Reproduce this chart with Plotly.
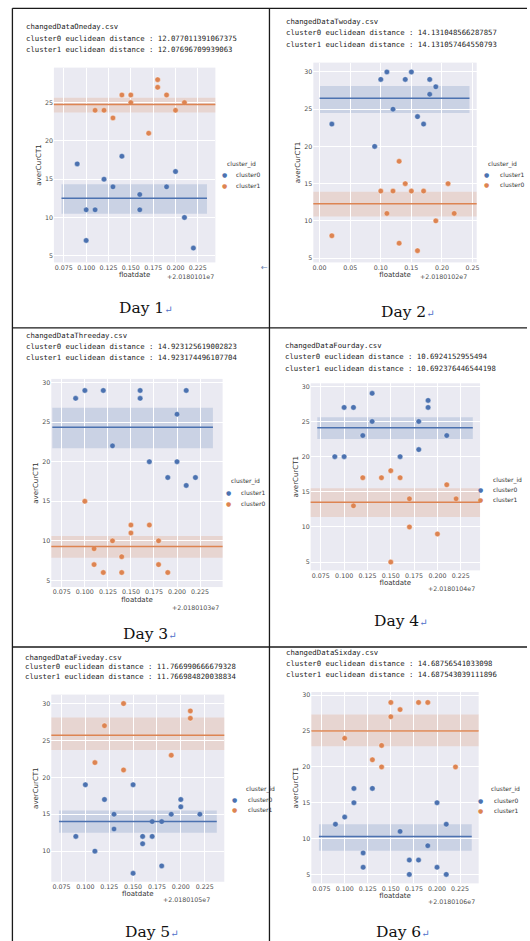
import plotly.graph_objects as go

W, H = 530, 941
BLUE = "#4C72B0"
ORANGE = "#DD8452"

# ---------------- data ----------------
days = ["Day 1", "Day 2", "Day 3", "Day 4", "Day 5", "Day 6"]
offset_labels = ["+2.0180101e7", "+2.0180102e7", "+2.0180103e7",
                 "+2.0180104e7", "+2.0180105e7", "+2.0180106e7"]
headers = [
    ["changedDataOneday.csv",
     "cluster0 euclidean distance : 12.077011391067375",
     "cluster1 euclidean distance : 12.07696709939063"],
    ["changedDataTwoday.csv",
     "cluster0 euclidean distance : 14.131048566287857",
     "cluster1 euclidean distance : 14.131057464550793"],
    ["changedDataThreeday.csv",
     "cluster0 euclidean distance : 14.923125619002823",
     "cluster1 euclidean distance : 14.923174496107704"],
    ["changedDataFourday.csv",
     "cluster0 euclidean distance : 10.6924152955494",
     "cluster1 euclidean distance : 10.692376446544198"],
    ["changedDataFiveday.csv",
     "cluster0 euclidean distance : 11.766990666679328",
     "cluster1 euclidean distance : 11.766984820038834"],
    ["changedDataSixday.csv",
     "cluster0 euclidean distance : 14.68756541033098",
     "cluster1 euclidean distance : 14.687543039111896"],
]

# blue series (first legend entry) / orange series (second legend entry)
blue_names = ["cluster0", "cluster1", "cluster1", "cluster0", "cluster0", "cluster0"]
orange_names = ["cluster1", "cluster0", "cluster0", "cluster1", "cluster1", "cluster1"]

d1_blue_x = [0.09, 0.10, 0.10, 0.11, 0.12, 0.13, 0.14, 0.16, 0.16, 0.19, 0.20, 0.21, 0.22]
d1_blue_y = [17, 11, 7, 11, 15, 14, 18, 13, 11, 14, 16, 10, 6]
d1_orange_x = [0.11, 0.12, 0.13, 0.14, 0.15, 0.15, 0.17, 0.18, 0.18, 0.19, 0.20, 0.21]
d1_orange_y = [24, 24, 23, 26, 26, 25, 21, 28, 27, 26, 24, 25]

d2_blue_x = [0.02, 0.09, 0.10, 0.11, 0.12, 0.14, 0.15, 0.16, 0.17, 0.18, 0.18, 0.19]
d2_blue_y = [23, 20, 29, 30, 25, 29, 30, 24, 23, 29, 27, 28]
d2_orange_x = [0.02, 0.10, 0.11, 0.12, 0.13, 0.13, 0.14, 0.15, 0.16, 0.17, 0.19, 0.21, 0.22]
d2_orange_y = [8, 14, 11, 14, 18, 7, 15, 14, 6, 14, 10, 15, 11]

d3_blue_x = [0.09, 0.10, 0.12, 0.13, 0.16, 0.16, 0.17, 0.19, 0.20, 0.20, 0.21, 0.21, 0.22]
d3_blue_y = [28, 29, 29, 22, 29, 28, 20, 18, 26, 20, 29, 17, 18]
d3_orange_x = [0.10, 0.11, 0.11, 0.12, 0.13, 0.14, 0.14, 0.15, 0.15, 0.17, 0.18, 0.18, 0.19]
d3_orange_y = [15, 9, 7, 6, 10, 8, 6, 12, 11, 12, 10, 7, 6]

d4_blue_x = [0.09, 0.10, 0.10, 0.11, 0.12, 0.13, 0.13, 0.16, 0.18, 0.18, 0.19, 0.19, 0.21]
d4_blue_y = [20, 20, 27, 27, 23, 29, 25, 20, 25, 21, 28, 27, 23]
d4_orange_x = [0.11, 0.12, 0.14, 0.15, 0.15, 0.16, 0.17, 0.17, 0.20, 0.21, 0.22]
d4_orange_y = [13, 17, 17, 18, 5, 17, 14, 10, 9, 16, 14]

d5_blue_x = [0.09, 0.10, 0.11, 0.12, 0.13, 0.13, 0.15, 0.15, 0.16, 0.16, 0.17, 0.17,
             0.18, 0.18, 0.19, 0.20, 0.20, 0.22]
d5_blue_y = [12, 19, 10, 17, 15, 13, 19, 7, 12, 11, 14, 12, 14, 8, 15, 17, 16, 15]
d5_orange_x = [0.11, 0.12, 0.14, 0.14, 0.19, 0.21, 0.21]
d5_orange_y = [22, 27, 30, 21, 23, 29, 28]

d6_blue_x = [0.09, 0.10, 0.11, 0.11, 0.12, 0.12, 0.13, 0.16, 0.17, 0.17, 0.18, 0.19,
             0.20, 0.20, 0.21, 0.21]
d6_blue_y = [12, 13, 17, 15, 8, 6, 17, 11, 7, 5, 7, 9, 15, 6, 12, 5]
d6_orange_x = [0.10, 0.13, 0.14, 0.14, 0.15, 0.15, 0.16, 0.18, 0.19, 0.22]
d6_orange_y = [24, 21, 23, 20, 29, 27, 28, 29, 29, 20]

blue_x = [d1_blue_x, d2_blue_x, d3_blue_x, d4_blue_x, d5_blue_x, d6_blue_x]
blue_y = [d1_blue_y, d2_blue_y, d3_blue_y, d4_blue_y, d5_blue_y, d6_blue_y]
orange_x = [d1_orange_x, d2_orange_x, d3_orange_x, d4_orange_x, d5_orange_x, d6_orange_x]
orange_y = [d1_orange_y, d2_orange_y, d3_orange_y, d4_orange_y, d5_orange_y, d6_orange_y]

# cluster mean lines and bands
blue_mean = [12.5, 26.46, 24.36, 24.1, 14.0, 10.3]
blue_lo = [10.5, 24.5, 21.7, 22.5, 12.5, 8.3]
blue_hi = [14.35, 28.1, 26.8, 25.6, 15.5, 12.0]
blue_start = [0.0724, 0.0, 0.0647, 0.0712, 0.0723, 0.0721]
blue_end = [0.2352, 0.245, 0.239, 0.2379, 0.2377, 0.2376]
orange_mean = [24.75, 12.3, 9.3, 13.5, 25.7, 25.0]
orange_lo = [23.7, 10.6, 7.85, 11.4, 23.7, 22.9]
orange_hi = [25.65, 13.9, 10.6, 15.5, 28.1, 27.3]

# ---------------- layout geometry (page pixels) ----------------
plot_box = [  # x0, x1, y0(top), y1(bottom)
    (53.3, 216.0, 66.7, 261.7),
    (314.7, 479.3, 61.7, 261.7),
    (50.7, 223.3, 378.3, 586.7),
    (312.0, 482.7, 382.7, 570.0),
    (50.7, 225.0, 694.3, 881.7),
    (312.7, 481.3, 691.7, 883.3),
]
x_ranges = [(0.0639, 0.2446), (-0.0103, 0.2568), (0.0636, 0.2495),
            (0.0641, 0.2457), (0.0643, 0.2456), (0.0639, 0.2451)]
y_ranges = [(4.13, 29.57), (4.42, 31.25), (4.16, 30.46),
            (3.82, 30.43), (5.85, 31.22), (3.75, 30.46)]
header_pos = [(23, 26, 11.5), (284.7, 20.7, 11.3), (22.7, 335, 10.8),
              (284.3, 345, 11.2), (21.7, 656.7, 9.7), (284.7, 652.3, 11)]
caption_pos = [(146, 307.7), (410, 311), (150, 634), (403, 621), (152, 931.7), (405, 931.7)]
offset_pos = [(216.5, 276), (472, 276), (221.7, 607.3), (480, 587.7), (213, 899), (480, 901)]
legend_pos = [  # title_x, title_y, marker_x, text_x, item1_y, item2_y
    (226, 163, 225.7, 235, 173.3, 184.3),
    (488.7, 163.3, 488.7, 500.3, 173.3, 183.3),
    (230, 481, 229.3, 240, 492.3, 502.7),
    (493.7, 479.3, 482.7, 493.7, 489.3, 499),
    (245, 789, 235, 247.3, 799.3, 809),
    (492, 789, 482.7, 494.7, 800, 810.7),
]


def px(x):
    return x / W


def py(y):
    return 1 - y / H


fig = go.Figure()
shapes = []
annotations = []
tick_font = dict(family="DejaVu Sans", size=6.3, color="#4d4d4d")
title_font = dict(family="DejaVu Sans", size=7, color="#333333")
legend_font = dict(family="DejaVu Sans", size=6, color="#333333")

for i in range(6):
    n = "" if i == 0 else str(i + 1)
    xa, ya = "x" + n, "y" + n
    x0, x1, y0, y1 = plot_box[i]
    if i == 1:
        tick0, dtick, fmt = 0, 0.05, ".2f"
    else:
        tick0, dtick, fmt = 0.075, 0.025, ".3f"
    fig.update_layout(**{
        "xaxis" + n: dict(domain=[px(x0), px(x1)], anchor=ya, range=list(x_ranges[i]),
                          tick0=tick0, dtick=dtick, tickformat=fmt,
                          showgrid=True, gridcolor="white", gridwidth=1, zeroline=False,
                          showline=False, ticks="", tickfont=tick_font,
                          title=dict(text="floatdate", font=title_font, standoff=2)),
        "yaxis" + n: dict(domain=[py(y1), py(y0)], anchor=xa, range=list(y_ranges[i]),
                          tick0=0, dtick=5,
                          showgrid=True, gridcolor="white", gridwidth=1, zeroline=False,
                          showline=False, ticks="", tickfont=tick_font,
                          title=dict(text="averCurCT1", font=title_font, standoff=2)),
    })
    # bands
    shapes.append(dict(type="rect", xref=xa, yref=ya, x0=blue_start[i], x1=blue_end[i],
                       y0=blue_lo[i], y1=blue_hi[i], fillcolor=BLUE, opacity=0.2,
                       line=dict(width=0), layer="below"))
    shapes.append(dict(type="rect", xref=xa + " domain", yref=ya, x0=0, x1=1,
                       y0=orange_lo[i], y1=orange_hi[i], fillcolor=ORANGE, opacity=0.2,
                       line=dict(width=0), layer="below"))
    # points
    fig.add_trace(go.Scatter(x=blue_x[i], y=blue_y[i], mode="markers", name=blue_names[i],
                             xaxis=xa, yaxis=ya, showlegend=False,
                             marker=dict(color=BLUE, size=5.5, line=dict(color="white", width=0.4))))
    fig.add_trace(go.Scatter(x=orange_x[i], y=orange_y[i], mode="markers", name=orange_names[i],
                             xaxis=xa, yaxis=ya, showlegend=False,
                             marker=dict(color=ORANGE, size=5.5, line=dict(color="white", width=0.4))))
    # mean lines
    shapes.append(dict(type="line", xref=xa, yref=ya, x0=blue_start[i], x1=blue_end[i],
                       y0=blue_mean[i], y1=blue_mean[i], line=dict(color=BLUE, width=1.5)))
    shapes.append(dict(type="line", xref=xa + " domain", yref=ya, x0=0, x1=1,
                       y0=orange_mean[i], y1=orange_mean[i], line=dict(color=ORANGE, width=1.5)))

    # header lines
    hx, hy, hgap = header_pos[i]
    for k, line in enumerate(headers[i]):
        annotations.append(dict(text=line, xref="paper", yref="paper", x=px(hx), y=py(hy + k * hgap),
                                xanchor="left", yanchor="middle", showarrow=False,
                                font=dict(family="DejaVu Sans Mono", size=7.3, color="#222222")))
    # offset text
    ox, oy = offset_pos[i]
    annotations.append(dict(text=offset_labels[i], xref="paper", yref="paper", x=px(ox), y=py(oy),
                            xanchor="right", yanchor="middle", showarrow=False, font=tick_font))
    # legend
    tx, ty, mx, lx, iy1, iy2 = legend_pos[i]
    annotations.append(dict(text="cluster_id", xref="paper", yref="paper", x=px(tx), y=py(ty),
                            xanchor="left", yanchor="middle", showarrow=False, font=legend_font))
    for name, col, yy in [(blue_names[i], BLUE, iy1), (orange_names[i], ORANGE, iy2)]:
        annotations.append(dict(text="●", xref="paper", yref="paper", x=px(mx), y=py(yy),
                                xanchor="center", yanchor="middle", showarrow=False,
                                font=dict(family="DejaVu Sans", size=6, color=col)))
        annotations.append(dict(text=name, xref="paper", yref="paper", x=px(lx), y=py(yy),
                                xanchor="left", yanchor="middle", showarrow=False, font=legend_font))
    # caption
    cx, cy = caption_pos[i]
    annotations.append(dict(text=days[i] + "<span style='font-size:10px;color:#4a6cc8'>↵</span>",
                            xref="paper", yref="paper", x=px(cx), y=py(cy),
                            xanchor="center", yanchor="middle", showarrow=False,
                            font=dict(family="DejaVu Serif", size=15.5, color="#111111")))

# small stray paragraph arrow next to the first cell
annotations.append(dict(text="←", xref="paper", yref="paper", x=px(266), y=py(267),
                        xanchor="center", yanchor="middle", showarrow=False,
                        font=dict(family="DejaVu Sans", size=8, color="#6a7fb0")))

# table borders
border = dict(color="#1a1a1a", width=1.3)
shapes += [
    dict(type="line", xref="paper", yref="paper", x0=px(11.5), x1=px(11.5), y0=py(7.3), y1=py(941), line=border),
    dict(type="line", xref="paper", yref="paper", x0=px(270.5), x1=px(270.5), y0=py(7.3), y1=py(941), line=border),
    dict(type="line", xref="paper", yref="paper", x0=px(11.5), x1=px(530), y0=py(7.3), y1=py(7.3), line=border),
    dict(type="line", xref="paper", yref="paper", x0=px(11.5), x1=px(530), y0=py(327.3), y1=py(327.3), line=border),
    dict(type="line", xref="paper", yref="paper", x0=px(11.5), x1=px(530), y0=py(646.7), y1=py(646.7), line=border),
]

fig.update_layout(width=W, height=H, margin=dict(l=0, r=0, t=0, b=0),
                  paper_bgcolor="white", plot_bgcolor="#EAEAF2",
                  showlegend=False, shapes=shapes, annotations=annotations,
                  font=dict(family="DejaVu Sans"))

fig.write_html("out.html", config={"displayModeBar": False},
               post_script="document.body.style.margin='0';document.body.style.overflow='hidden';")
